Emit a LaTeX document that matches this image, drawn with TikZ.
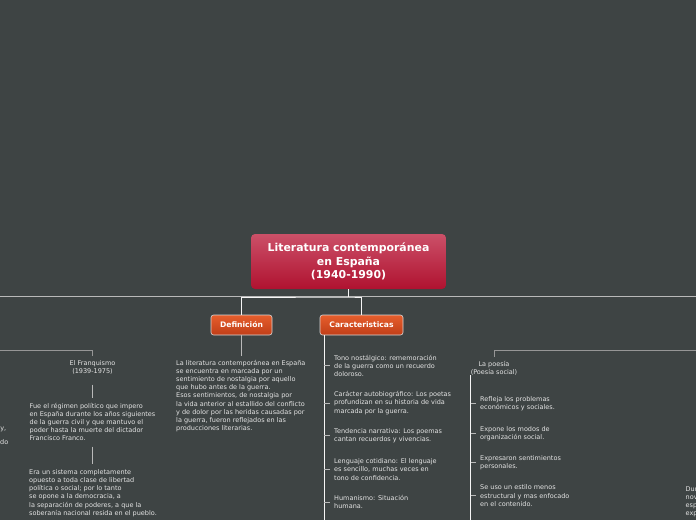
\documentclass[tikz,border=0pt]{standalone}
\usepackage{fontspec}
\setmainfont{DejaVu Sans}
\definecolor{bg}{RGB}{62,68,68}
\definecolor{rootT}{RGB}{203,80,104}
\definecolor{rootB}{RGB}{176,18,48}
\definecolor{orT}{RGB}{230,94,44}
\definecolor{orB}{RGB}{192,62,24}
\definecolor{boxedge}{RGB}{215,215,215}
\definecolor{txt}{RGB}{228,228,228}
\definecolor{lineg}{RGB}{150,150,150}
\definecolor{linel}{RGB}{185,185,185}
\begin{document}
\begin{tikzpicture}[x=1pt,y=-1pt,
  rootbox/.style={rectangle, rounded corners=4pt, minimum width=195pt, minimum height=55pt,
    top color=rootT, bottom color=rootB, text=white, align=center, inner sep=0pt,
    font=\fontsize{10.9}{13.6}\selectfont\bfseries},
  topic/.style={rectangle, rounded corners=2.5pt, draw=boxedge, line width=0.6pt,
    minimum height=20pt, top color=orT, bottom color=orB, text=white, inner sep=0pt,
    font=\fontsize{7.6}{8}\selectfont\bfseries},
  body/.style={text=txt, font=\fontsize{6.5}{8.2}\selectfont, align=left, inner sep=0pt},
  label/.style={text=txt, font=\fontsize{6.5}{8.2}\selectfont, align=center, inner sep=0pt},
  item/.style={body, anchor=west, inner xsep=4pt, inner ysep=0pt},
  wline/.style={draw=white!92!gray, line width=0.9pt},
  gline/.style={draw=lineg, line width=0.9pt},
  lline/.style={draw=linel, line width=0.9pt}
]
\useasboundingbox (0,0) rectangle (696,520);
\fill[bg] (0,0) rectangle (696,520);

% off-screen ends
\coordinate (mL) at (0,296.5);
\coordinate (mR) at (696,296.5);
\coordinate (j) at (348.5,297);
\coordinate (fL) at (0,350);
\coordinate (pR) at (696,350);
\coordinate (cbot) at (324,520);
\coordinate (pbot) at (470.5,520);

\draw[lline] (mL) -- (mR);

% root and topics
\node[rootbox] (root) at (348.5,261.5) {Literatura contemporánea\\en España\\(1940-1990)};
\node[topic, minimum width=61pt] (def) at (241.5,325) {Definición};
\node[topic, minimum width=83pt] (car) at (361.5,325) {Caracteristicas};

\draw[wline] (root.south) -- (j);
\draw[wline] (def.north) |- (j) -| (car.north);

% Definicion text
\node[body, anchor=north west] (dt) at (176,359.6) {La literatura contemporánea en España\\se encuentra en marcada por un\\sentimiento de nostalgia por aquello\\que hubo antes de la guerra.\\Esos sentimientos, de nostalgia por\\la vida anterior al estallido del conflicto\\y de dolor por las heridas causadas por\\la guerra, fueron reflejados en las\\producciones literarias.};
\draw[lline, shorten >=4pt] (def.south) -- (def.south |- dt.north);

% Caracteristicas items
\draw[wline] (car.south -| cbot) -- (cbot);
\node[item] (c1) at (330,365.7) {Tono nostálgico: rememoración\\de la guerra como un recuerdo\\doloroso.};
\node[item] (c2) at (330,403) {Carácter autobiográfico: Los poetas\\profundizan en su historia de vida\\marcada por la guerra.};
\node[item] (c3) at (330,435.7) {Tendencia narrativa: Los poemas\\cantan recuerdos y vivencias.};
\node[item] (c4) at (330,469.5) {Lenguaje cotidiano: El lenguaje\\es sencillo, muchas veces en\\tono de confidencia.};
\node[item] (c5) at (330,502) {Humanismo: Situación\\humana.};
\foreach \n in {c1,c2,c3,c4,c5} \draw[lline, line width=0.7pt] (\n.west -| cbot) -- (\n.west);

% El Franquismo
\node[label] (fr) at (92.5,367.5) {El Franquismo\\(1939-1975)};
\draw[gline, shorten >=4pt] (fL) -| (fr.north);
\node[body, anchor=north west] (ft1) at (29.5,402.6) {Fue el régimen político que impero\\en España durante los años siguientes\\de la guerra civil y que mantuvo el\\poder hasta la muerte del dictador\\Francisco Franco.};
\draw[lline, shorten <=10pt, shorten >=4.5pt] (fr.south) -- (fr.south |- ft1.north);
\node[body, anchor=north west] (ft2) at (29,469.2) {Era un sistema completamente\\opuesto a toda clase de libertad\\política o social; por lo tanto\\se opone a la democracia, a\\la separación de poderes, a que la\\soberanía nacional resida en el pueblo.};
\draw[lline, shorten <=5.5pt, shorten >=5pt] (fr.south |- ft1.south) -- (fr.south |- ft2.north);

% left fragments
\node[body, anchor=base east] (lf1) at (6.5,430) {y,};
\node[body, anchor=base east] (lf2) at (8.5,444.5) {do};

% La poesia
\node[label] (po) at (494,368) {La poesía\\(Poesía social)};
\draw[gline, shorten >=4pt] (pR) -| (po.north);
\draw[wline] (po.south -| pbot) -- (pbot);
\node[item] (p1) at (476,403.5) {Refleja los problemas\\económicos y sociales.};
\node[item] (p2) at (476,433.3) {Expone los modos de\\organización social.};
\node[item] (p3) at (476,462.7) {Expresaron sentimientos\\personales.};
\node[item] (p4) at (476,495.7) {Se uso un estilo menos\\estructural y mas enfocado\\en el contenido.};
\foreach \n in {p1,p2,p3,p4} \draw[lline, line width=0.7pt] (\n.west -| pbot) -- (\n.west);

% right fragment
\node[body, anchor=north west] (rf) at (685.5,486.3) {Dur\\nov\\esp\\exp};
\end{tikzpicture}
\end{document}
